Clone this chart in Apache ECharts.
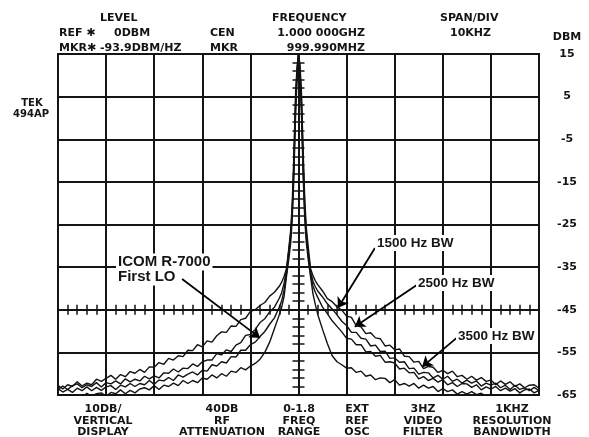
<!DOCTYPE html>
<html>
<head>
<meta charset="utf-8">
<script src="https://cdn.jsdelivr.net/npm/echarts@6/dist/echarts.min.js"></script>
<style>
  html, body { margin: 0; padding: 0; background: #fff; }
  #chart { width: 589px; height: 437px; }
</style>
</head>
<body>
<div id="chart"></div>
<script>
// Frequency offset from centre, kHz (10 kHz per division)
const freqKHz = [
  -50,-49,-48,-47,-46,-45,-44,-43,-42,-41,-40,-39,-38,-37,-36,-35,-34,-33,-32,-31,
  -30,-29,-28,-27,-26,-25,-24,-23,-22,-21,-20,-19,-18,-17,-16,-15,-14,-13,-12,-11,-10,
  -9,-8,-7,-6,-5,-4,
  -3.5,-3,-2.5,-2,-1.6,-1.3,-1,-0.8,-0.6,-0.3,
  0,
  0.3,0.6,0.8,1,1.3,1.6,2,2.5,3,3.5,
  4,5,6,7,8,9,
  10,11,12,13,14,15,16,17,18,19,20,21,22,23,24,25,26,27,28,29,30,
  31,32,33,34,35,36,37,38,39,40,41,42,43,44,45,46,47,48,49,50
];

// Measured level, dBm, one array per sweep
const trace3500 = [
  -62.8,-63.6,-62.6,-63.0,-61.9,-62.9,-62.2,-62.6,-61.3,-61.8,-61.1,-60.4,-61.3,-60.2,-60.7,-59.5,-59.9,-59.0,-59.7,-58.4,
  -58.5,-57.4,-57.8,-56.4,-56.8,-55.8,-56.0,-54.5,-54.6,-53.2,-53.7,-52.3,-52.6,-51.1,-50.2,-50.3,-48.8,-48.9,-47.3,-47.0,-45.4,
  -45.0,-44.0,-43.3,-41.8,-40.9,-39.5,
  -38.5,-37.2,-35.4,-30.5,-26,-20,-10,-2,6,12,
  15,
  12.5,6.5,-1.5,-9,-19,-25.5,-30,-35.3,-37,-38.2,
  -39.1,-40.6,-42.4,-43.1,-44.3,-45.1,
  -46.5,-46.8,-48.7,-49.0,-50.6,-50.4,-51.6,-51.8,-53.5,-53.3,-54.4,-54.2,-55.9,-56.0,-57.3,-57.1,-58.8,-58.3,-58.5,-59.7,-59.2,
  -60.0,-59.4,-60.7,-60.4,-61.3,-60.6,-61.5,-60.9,-61.8,-61.5,-62.6,-61.7,-62.5,-61.9,-63.0,-62.4,-63.3,-62.7,-62.6,-63.4
];
const trace2500 = [
  -63.6,-62.9,-63.7,-62.8,-62.4,-63.3,-62.6,-63.0,-62.1,-63.1,-62.1,-62.4,-61.7,-62.4,-61.2,-61.9,-61.3,-61.7,-60.6,-61.2,
  -60.5,-61.0,-59.8,-59.9,-58.9,-59.6,-58.7,-58.8,-57.7,-58.3,-57.2,-56.8,-56.8,-55.3,-55.6,-54.4,-54.8,-53.3,-52.7,-51.0,-50.8,
  -49.6,-48.0,-47.1,-45.5,-44.4,-42.3,
  -41.0,-38.8,-35.8,-31,-27,-21.5,-12,-4,4,11,
  15,
  11.5,4.5,-3.5,-11,-21,-26.5,-31.5,-36,-38.3,-39.6,
  -40.6,-42.0,-43.6,-44.8,-46.2,-47.7,
  -48.7,-50.3,-50.3,-51.7,-51.9,-53.5,-53.3,-54.8,-54.7,-56.4,-56.3,-57.3,-57.2,-58.8,-58.7,-60.1,-59.7,-59.8,-61.0,-60.4,-61.3,
  -60.6,-61.8,-61.3,-62.2,-61.5,-62.2,-61.7,-62.9,-62.2,-62.7,-62.2,-63.3,-62.7,-63.7,-62.7,-63.7,-63.3,-64.0,-63.2,-64.0
];
const trace1500 = [
  -63.5,-64.3,-63.7,-64.4,-63.4,-64.0,-63.1,-64.0,-63.2,-63.9,-63.1,-62.8,-63.7,-62.7,-63.1,-62.3,-63.0,-62.3,-62.6,-61.6,
  -62.5,-61.5,-61.7,-60.9,-61.6,-60.3,-60.8,-60.1,-59.6,-60.3,-59.2,-59.4,-57.9,-58.2,-57.2,-57.5,-56.0,-56.1,-54.5,-54.5,-53.2,
  -52.6,-51.3,-50.1,-48.4,-46.9,-44.4,
  -42.9,-40.4,-36.6,-31.5,-27.5,-22,-13,-5,3,10.5,
  15,
  10.5,3.5,-5,-13,-22.5,-27.5,-32,-36.6,-39.4,-40.9,
  -42.1,-44.4,-45.9,-47.6,-48.9,-50.2,
  -51.7,-51.9,-53.2,-53.2,-54.9,-54.8,-55.9,-55.7,-57.3,-57.2,-57.5,-58.9,-58.7,-59.8,-59.7,-61.2,-60.7,-61.6,-61.1,-62.0,-61.4,
  -62.6,-62.1,-63.0,-62.3,-62.4,-63.2,-62.6,-63.8,-63.1,-63.6,-63.0,-64.0,-63.4,-64.1,-63.5,-64.5,-63.8,-63.6,-64.5,-63.9
];
const traceFirstLO = [
  -65.2,-65.6,-64.9,-65.4,-64.9,-65.5,-64.6,-65.3,-64.7,-64.5,-65.3,-64.4,-64.7,-63.8,-64.7,-63.9,-64.5,-63.6,-63.3,-63.8,
  -62.8,-63.7,-62.7,-63.0,-62.2,-62.8,-61.6,-62.3,-61.6,-62.1,-61.0,-61.3,-60.3,-61.0,-60.0,-60.6,-59.4,-59.7,-58.6,-59.1,-58.2,
  -57.6,-56.6,-55.0,-52.6,-49.4,-46.2,
  -44.4,-41.9,-37.2,-33,-29,-23.5,-15,-7,1,9,
  15,
  9.5,1.5,-6.5,-14.5,-23.5,-29,-33,-37.2,-41.2,-43.8,
  -46.1,-49.6,-52.9,-55.8,-57.2,-57.9,
  -58.7,-58.6,-59.7,-59.4,-60.6,-60.3,-61.4,-61.0,-61.1,-62.1,-61.4,-62.7,-62.3,-62.9,-62.3,-63.4,-62.7,-63.4,-63.0,-64.2,-63.5,
  -64.2,-63.8,-64.8,-64.2,-64.8,-64.2,-64.9,-64.6,-65.3,-64.8,-65.3,-64.9,-65.5,-64.9,-65.4,-64.8,-65.6,-65.1,-65.6,-65.1
];

// Callout arrows: [tail, head] in (kHz, dBm)
const calloutArrows = [
  [[-24.2, -37.8], [-8.0, -51.6]],
  [[15.9, -30.5], [8.2, -44.6]],
  [[24.6, -39.2], [11.7, -49.0]],
  [[32.9, -51.6], [25.7, -58.4]]
];

// Readout text around the graticule
const headerRows = [
  ['LEVEL', 100, 18, 'left'],
  ['REF \u2731', 59, 33, 'left'],
  ['0DBM', 114, 33, 'left'],
  ['MKR\u2731 -93.9DBM/HZ', 59, 48, 'left'],
  ['CEN', 210, 33, 'left'],
  ['MKR', 210, 48, 'left'],
  ['FREQUENCY', 272, 18, 'left'],
  ['1.000 000GHZ', 365, 33, 'right'],
  ['999.990MHZ', 365, 48, 'right'],
  ['SPAN/DIV', 440, 18, 'left'],
  ['10KHZ', 450, 33, 'left'],
  ['DBM', 567, 37, 'center']
];
const footerLabels = [
  ['10DB/', 'VERTICAL', 'DISPLAY'],
  ['40DB', 'RF', 'ATTENUATION'],
  ['0-1.8', 'FREQ', 'RANGE'],
  ['EXT', 'REF', 'OSC'],
  ['3HZ', 'VIDEO', 'FILTER'],
  ['1KHZ', 'RESOLUTION', 'BANDWIDTH']
];
const footerCenters = [103, 222, 299, 357, 423, 512];
const footerRowsY = [409, 421, 432];
const calloutTexts = [
  ['ICOM R-7000', 118, 262, 15],
  ['First LO', 118, 277, 15],
  ['1500 Hz BW', 377, 243, 13.5],
  ['2500 Hz BW', 418, 283, 13.5],
  ['3500 Hz BW', 458, 336, 13.5]
];

const INK = '#141414';
const PANEL_FONT = 'bold 11px "DejaVu Sans"';

const graphics = [];
headerRows.forEach(([t, x, y, a]) => {
  graphics.push({ type: 'text', x, y, z: 50, silent: true,
    style: { text: t, font: PANEL_FONT, fill: INK, align: a, textAlign: a,
             verticalAlign: 'middle', textVerticalAlign: 'middle' } });
});
graphics.push({ type: 'text', x: 32, y: 103, z: 50, silent: true,
  style: { text: 'TEK', font: 'bold 10px "DejaVu Sans"', fill: INK, align: 'center', textAlign: 'center', verticalAlign: 'middle', textVerticalAlign: 'middle' } });
graphics.push({ type: 'text', x: 31, y: 114, z: 50, silent: true,
  style: { text: '494AP', font: 'bold 10px "DejaVu Sans"', fill: INK, align: 'center', textAlign: 'center', verticalAlign: 'middle', textVerticalAlign: 'middle' } });
footerLabels.forEach((lines, i) => {
  lines.forEach((t, r) => {
    graphics.push({ type: 'text', x: footerCenters[i], y: footerRowsY[r], z: 50, silent: true,
      style: { text: t, font: PANEL_FONT, fill: INK, align: 'center', textAlign: 'center',
               verticalAlign: 'middle', textVerticalAlign: 'middle' } });
  });
});
calloutTexts.forEach(([t, x, y, s]) => {
  graphics.push({ type: 'text', x: x - 2, y, z: 60, silent: true,
    style: { text: t, font: 'bold ' + s + 'px "Liberation Sans"', fill: '#161616', align: 'left', textAlign: 'left',
             verticalAlign: 'middle', textVerticalAlign: 'middle',
             backgroundColor: '#fff', padding: [1, 2, 1, 2] } });
});

const pairs = ys => freqKHz.map((f, i) => [f, ys[i]]);
const traceSeries = [trace3500, trace2500, trace1500, traceFirstLO].map((ys, k) => ({
  type: 'line',
  name: ['3500 Hz BW', '2500 Hz BW', '1500 Hz BW', 'First LO'][k],
  xAxisIndex: 0, yAxisIndex: 0,
  data: pairs(ys),
  showSymbol: false, symbol: 'none',
  clip: true, silent: true, z: 5,
  lineStyle: { color: '#121212', width: 1.4 }
}));
traceSeries[0].markLine = {
  silent: true,
  symbol: ['none', 'arrow'],
  symbolSize: 10,
  lineStyle: { color: '#000', width: 1.8, type: 'solid' },
  label: { show: false },
  emphasis: { disabled: true },
  data: calloutArrows.map(([a, b]) => [{ coord: a }, { coord: b }])
};

const gridLine = { show: true, lineStyle: { color: INK, width: 2 } };
const hiddenLabel = { show: false };

const option = {
  animation: false,
  backgroundColor: '#fff',
  grid: { left: 58, right: 50, top: 54, bottom: 42, show: true, borderColor: INK, borderWidth: 2, backgroundColor: '#fff' },
  xAxis: [
    { type: 'value', min: -50, max: 50, interval: 10, position: 'bottom',
      axisLine: { show: false, onZero: false }, axisTick: { show: false }, axisLabel: hiddenLabel, splitLine: gridLine },
    // minor graduations on the horizontal centre line (2 kHz apart)
    { type: 'value', min: -50, max: 50, interval: 2, position: 'bottom',
      axisLine: { show: true, onZero: true, onZeroAxisIndex: 1, lineStyle: { color: INK, width: 2 } },
      axisTick: { show: true, length: 5, inside: false, lineStyle: { color: INK, width: 1.5 } },
      axisLabel: hiddenLabel, splitLine: { show: false } },
    { type: 'value', min: -50, max: 50, interval: 2, position: 'top',
      axisLine: { show: true, onZero: true, onZeroAxisIndex: 1, lineStyle: { color: INK, width: 2 } },
      axisTick: { show: true, length: 5, inside: false, lineStyle: { color: INK, width: 1.5 } },
      axisLabel: hiddenLabel, splitLine: { show: false } }
  ],
  yAxis: [
    { type: 'value', min: -65, max: 15, interval: 10, position: 'right',
      axisLine: { show: false, onZero: false }, axisTick: { show: false },
      axisLabel: { show: true, margin: 28, align: 'center', color: INK, fontFamily: 'DejaVu Sans', fontWeight: 'bold', fontSize: 11,
                   padding: [0, 0, 6, 0], showMinLabel: true, showMaxLabel: true },
      splitLine: gridLine },
    // reference scale whose zero sits on the -45 dBm centre line
    { type: 'value', min: -20, max: 60, show: false, position: 'left',
      axisLine: { onZero: false }, splitLine: { show: false } },
    // minor graduations on the vertical centre line (2 dB apart)
    { type: 'value', min: 0, max: 80, interval: 2, position: 'left',
      axisLine: { show: true, onZero: true, onZeroAxisIndex: 0, lineStyle: { color: INK, width: 2 } },
      axisTick: { show: true, length: 6, inside: false, lineStyle: { color: INK, width: 1.5 } },
      axisLabel: hiddenLabel, splitLine: { show: false } },
    { type: 'value', min: 0, max: 80, interval: 2, position: 'right',
      axisLine: { show: true, onZero: true, onZeroAxisIndex: 0, lineStyle: { color: INK, width: 2 } },
      axisTick: { show: true, length: 6, inside: false, lineStyle: { color: INK, width: 1.5 } },
      axisLabel: hiddenLabel, splitLine: { show: false } }
  ],
  series: traceSeries,
  graphic: { elements: graphics }
};

const chart = echarts.init(document.getElementById('chart'));
chart.setOption(option);
</script>
</body>
</html>
